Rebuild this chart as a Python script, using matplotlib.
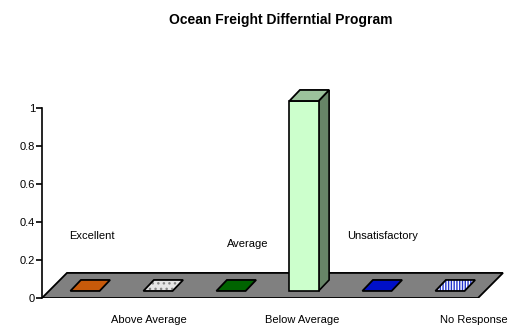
import matplotlib
matplotlib.use("Agg")
import matplotlib.pyplot as plt
from matplotlib.patches import Polygon, Rectangle

plt.rcParams['font.family'] = ['Liberation Sans Narrow', 'Liberation Sans', 'DejaVu Sans']

# Survey results
categories = ['Excellent', 'Above Average', 'Average', 'Below Average',
              'Unsatisfactory', 'No Response']
values = [0, 0, 0, 1, 0, 0]
y_ticks = [0, 0.2, 0.4, 0.6, 0.8, 1]
tick_labels = ['0', '0.2', '0.4', '0.6', '0.8', '1']

# face colours (front, top, side), hatch and hatch colour per category
front_colors = ['#C85A0A', '#E6E6E6', '#006400', '#CCFFCC', '#0010C8', '#FFFFFF']
top_colors = ['#C85A0A', '#E6E6E6', '#006400', '#9CC29C', '#0010C8', '#FFFFFF']
side_colors = ['#8A3E06', '#999999', '#004400', '#678567', '#000A88', '#8899DD']
hatches = [None, '...', None, None, None, '||||||']
hatch_colors = [None, '#888888', None, None, None, '#2233CC']

# layout of the pseudo-3D floor and bars
bar_w = 0.4
base_y = 0.037
depth_x, depth_y = 0.144, 0.058
floor_x0, floor_x1 = -0.589, 5.384
floor_dx, floor_dy = 0.342, 0.132

fig = plt.figure(figsize=(5.12, 3.29), dpi=100)
ax = fig.add_axes([42 / 512, 31 / 329, 470 / 512, 237.5 / 329])
ax.set_xlim(floor_x0, floor_x0 + 470 / 73)
ax.set_ylim(0, 1.25)

# grey floor
floor = Polygon([(floor_x0, 0), (floor_x1, 0),
                 (floor_x1 + floor_dx, floor_dy), (floor_x0 + floor_dx, floor_dy)],
                closed=True, facecolor='#808080', edgecolor='black', lw=1.3, zorder=1)
ax.add_patch(floor)

for i, v in enumerate(values):
    l, r = i - bar_w / 2, i + bar_w / 2
    b, t = base_y, base_y + v
    if v > 0:
        ax.add_patch(Polygon([(r, b), (r + depth_x, b + depth_y),
                              (r + depth_x, t + depth_y), (r, t)],
                             closed=True, facecolor=side_colors[i],
                             edgecolor='black', lw=1.2, zorder=2))
        ax.add_patch(Rectangle((l, b), bar_w, v, facecolor=front_colors[i],
                               edgecolor='black', lw=1.2, zorder=3))
    top_pts = [(l, t), (r, t), (r + depth_x, t + depth_y), (l + depth_x, t + depth_y)]
    ax.add_patch(Polygon(top_pts, closed=True, facecolor=top_colors[i],
                         edgecolor='none', zorder=4))
    if hatches[i]:
        # hatch drawn in its own colour, outline added on top
        ax.add_patch(Polygon(top_pts, closed=True, facecolor='none',
                             edgecolor=hatch_colors[i], hatch=hatches[i],
                             lw=0, zorder=5))
    ax.add_patch(Polygon(top_pts, closed=True, facecolor='none',
                         edgecolor='black', lw=1.3, zorder=6))

# staggered category labels
label_x = [0.1, 0.88, 2.23, 2.97, 4.08, 5.33]
label_y = [0.326, -0.116, 0.284, -0.116, 0.326, -0.116]
for name, lx, ly in zip(categories, label_x, label_y):
    ax.text(lx, ly, name, ha='center', va='center', fontsize=8,
            clip_on=False, zorder=7)

for side in ['top', 'right', 'bottom']:
    ax.spines[side].set_visible(False)
ax.spines['left'].set_bounds(0, 1)
ax.spines['left'].set_linewidth(1.2)
ax.set_xticks([])
ax.set_yticks(y_ticks)
ax.set_yticklabels(tick_labels)
ax.tick_params(axis='y', direction='out', length=4, width=1.2, labelsize=8, pad=1)

fig.text(281 / 512, 1 - 20 / 329, 'Ocean Freight Differntial Program',
         ha='center', va='center', fontsize=10, fontweight='bold')

fig.savefig('out.png', dpi=100)
